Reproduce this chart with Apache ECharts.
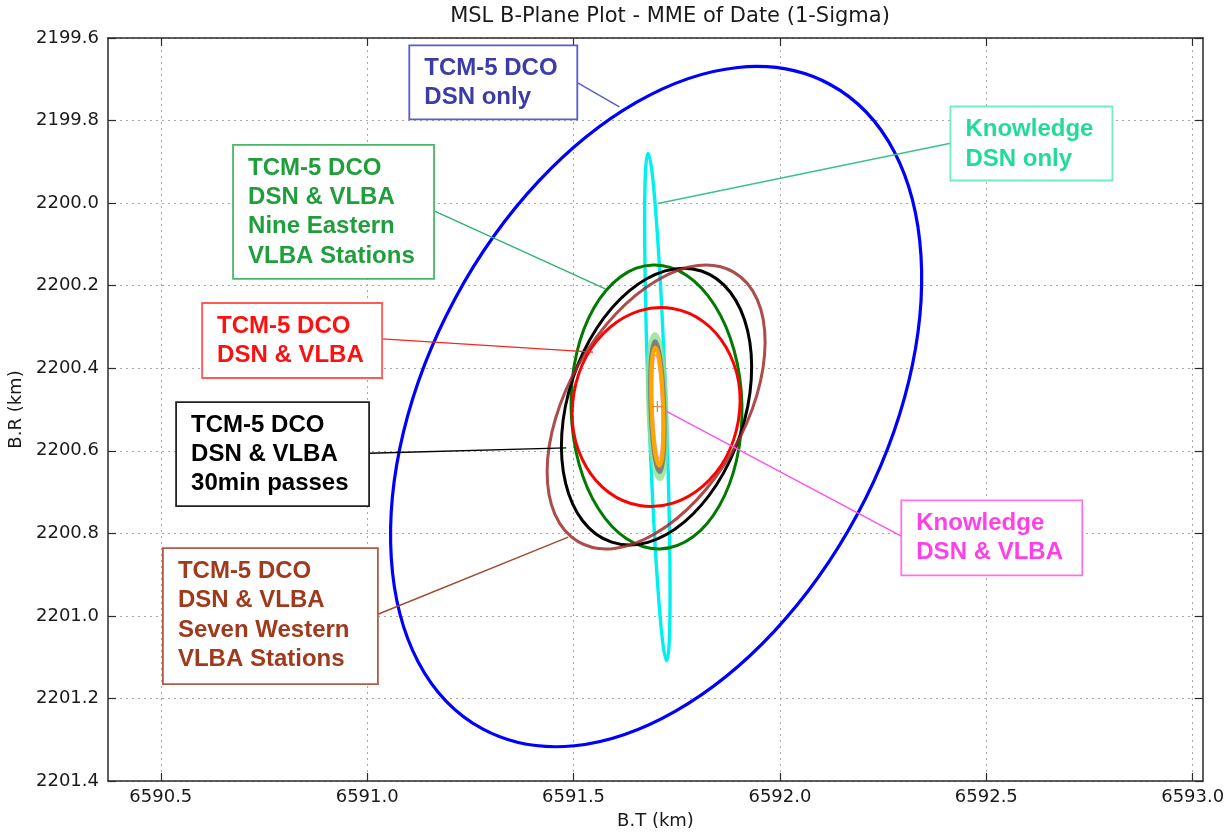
<!DOCTYPE html>
<html>
<head>
<meta charset="utf-8">
<script src="https://cdn.jsdelivr.net/npm/echarts@6/dist/echarts.min.js"></script>
<style>
  html, body { margin: 0; padding: 0; background: #ffffff; }
  #chart { width: 1229px; height: 832px; }
</style>
</head>
<body>
<div id="chart"></div>
<script>
// ---- B-plane 1-sigma error ellipses (km) ----
const ellipseNames = [
  'TCM-5 DCO DSN only',
  'Knowledge DSN only',
  'TCM-5 DCO DSN & VLBA (Nine Eastern)',
  'TCM-5 DCO DSN & VLBA (30min passes)',
  'TCM-5 DCO DSN & VLBA (Seven Western)',
  'TCM-5 DCO DSN & VLBA',
  'Knowledge DSN & VLBA (a)',
  'Knowledge DSN & VLBA (b)',
  'Knowledge DSN & VLBA (c)',
  'Knowledge DSN & VLBA (d)'
];
const ellipseBT    = [6591.700, 6591.703, 6591.701, 6591.701, 6591.700, 6591.700, 6591.703, 6591.703, 6591.703, 6591.703];
const ellipseBR    = [2200.493, 2200.494, 2200.494, 2200.493, 2200.494, 2200.494, 2200.493, 2200.493, 2200.493, 2200.493];
const ellipseMajor = [0.887, 0.615, 0.344, 0.346, 0.377, 0.242, 0.172, 0.158, 0.125, 0.143];
const ellipseMinor = [0.553, 0.021, 0.207, 0.214, 0.214, 0.202, 0.018, 0.016, 0.011, 0.014];
const ellipseTilt  = [61.7, 92.1, 91.3, 71.7, 60.1, 80.5, 92.0, 92.0, 92.0, 92.0];

// nominal aim point
const nominalBT = [6591.703];
const nominalBR = [2200.493];

// axis ticks
const xTicks = [6590.5, 6591.0, 6591.5, 6592.0, 6592.5, 6593.0];
const yTicks = [2199.6, 2199.8, 2200.0, 2200.2, 2200.4, 2200.6, 2200.8, 2201.0, 2201.2, 2201.4];
const xRange = [6590.372, 6593.025];

// ---- styles ----
const ellipseStyles = [
  { color: '#0000ff', width: 3.2 },
  { color: '#00f0f0', width: 3.4 },
  { color: '#007a00', width: 3 },
  { color: '#000000', width: 3 },
  { color: '#a02c2c', width: 3, opacity: 0.85 },
  { color: '#ff0000', width: 3 },
  { color: '#8fe08f', width: 7, opacity: 0.8 },
  { color: '#808080', width: 4.5 },
  { color: '#ff9ad5', width: 2 },
  { color: '#ffa500', width: 4 }
];

// callout boxes: anchor (top-left) and leader line ends in plot coordinates
const callouts = [
  { lines: ['TCM-5 DCO', 'DSN only'], text: '#3c3ca6', border: '#5a5ad4', lead: '#5a5ad4',
    box: [6591.102, 2199.618], w: 168, h: 74, from: [6591.509, 2199.708], to: [6591.611, 2199.767] },
  { lines: ['Knowledge', 'DSN only'], text: '#20dc98', border: '#70ecc8', lead: '#3cc090',
    box: [6592.413, 2199.766], w: 162, h: 74, from: [6592.413, 2199.855], to: [6591.704, 2200.001] },
  { lines: ['TCM-5 DCO', 'DSN & VLBA', 'Nine Eastern', 'VLBA Stations'], text: '#1f9e3c', border: '#48b868', lead: '#30b070',
    box: [6590.675, 2199.859], w: 201, h: 134, from: [6591.162, 2200.019], to: [6591.577, 2200.208] },
  { lines: ['TCM-5 DCO', 'DSN & VLBA'], text: '#ff1010', border: '#ff5a5a', lead: '#ff2020',
    box: [6590.600, 2200.242], w: 180, h: 75, from: [6591.036, 2200.329], to: [6591.547, 2200.361] },
  { lines: ['TCM-5 DCO', 'DSN & VLBA', '30min passes'], text: '#000000', border: '#222222', lead: '#000000',
    box: [6590.537, 2200.482], w: 193, h: 104, from: [6591.005, 2200.606], to: [6591.482, 2200.593] },
  { lines: ['Knowledge', 'DSN & VLBA'], text: '#ff40e6', border: '#ff70ee', lead: '#ff50ec',
    box: [6592.294, 2200.720], w: 181, h: 75, from: [6592.294, 2200.807], to: [6591.724, 2200.504] },
  { lines: ['TCM-5 DCO', 'DSN & VLBA', 'Seven Western', 'VLBA Stations'], text: '#a03a1c', border: '#b05a48', lead: '#a04a30',
    box: [6590.505, 2200.836], w: 215, h: 136, from: [6591.026, 2200.996], to: [6591.487, 2200.809] }
];

const FONT = 'DejaVu Sans';
const CALLOUT_FONT = 'bold 24px "Liberation Sans", Arial, sans-serif';

const chart = echarts.init(document.getElementById('chart'), null, { renderer: 'canvas' });

const ellipseData = ellipseBT.map((bt, i) => [bt, ellipseBR[i], ellipseMajor[i], ellipseMinor[i], ellipseTilt[i]]);

function renderEllipse(params, api) {
  const i = params.dataIndex;
  const item = [api.value(0), api.value(1)];
  const c = api.coord(item);
  const k = api.size([1, 1], item);
  const st = ellipseStyles[i];
  return {
    type: 'ellipse',
    x: c[0], y: c[1],
    rotation: api.value(4) * Math.PI / 180,
    shape: { cx: 0, cy: 0, rx: api.value(2) * k[0], ry: api.value(3) * k[1] },
    style: { fill: 'none', stroke: st.color, lineWidth: st.width, opacity: st.opacity == null ? 1 : st.opacity },
    z2: i
  };
}

function renderCallout(params, api) {
  const c = callouts[params.dataIndex];
  const p = api.coord(c.box);
  const a = api.coord(c.from);
  const b = api.coord(c.to);
  const children = [
    { type: 'line', shape: { x1: a[0], y1: a[1], x2: b[0], y2: b[1] },
      style: { stroke: c.lead, lineWidth: 1.4 } },
    { type: 'rect', shape: { x: p[0], y: p[1], width: c.w, height: c.h },
      style: { fill: '#ffffff', stroke: c.border, lineWidth: 1.8 } }
  ];
  c.lines.forEach((t, j) => {
    children.push({
      type: 'text',
      x: p[0] + 15, y: p[1] + 23 + j * 29.4,
      style: { text: t, fill: c.text, font: CALLOUT_FONT,
               align: 'left', verticalAlign: 'middle', textAlign: 'left', textVerticalAlign: 'middle' }
    });
  });
  return { type: 'group', children };
}

const axisLineStyle = { color: '#2a2a2a', width: 1.5 };
const tickStyle = { color: '#2a2a2a', width: 1.2 };
const gridLine = { show: true, lineStyle: { color: '#a8a8a8', width: 1, type: [2, 4] } };

const option = {
  animation: false,
  backgroundColor: '#ffffff',
  grid: { left: 108, right: 26, top: 38, bottom: 51, containLabel: false, outerBoundsMode: 'none' },
  graphic: [
    { type: 'text', x: 670, y: 17,
      style: { text: 'MSL B-Plane Plot - MME of Date (1-Sigma)', fill: '#1a1a1a',
               font: '21px "' + FONT + '"', align: 'center', verticalAlign: 'middle',
               textAlign: 'center', textVerticalAlign: 'middle' } }
  ],
  xAxis: [
    {
      type: 'value', min: xRange[0], max: xRange[1], position: 'bottom',
      name: 'B.T (km)', nameLocation: 'middle', nameGap: 31,
      nameTextStyle: { fontFamily: FONT, fontSize: 18, color: '#1a1a1a' },
      axisLine: { show: true, onZero: false, lineStyle: axisLineStyle },
      axisTick: { show: true, inside: true, length: 8, lineStyle: tickStyle, customValues: xTicks },
      axisLabel: { show: true, margin: 7, fontFamily: FONT, fontSize: 18, color: '#1a1a1a',
                   customValues: xTicks, formatter: v => v.toFixed(1) },
      splitLine: gridLine
    },
    {
      type: 'value', min: xRange[0], max: xRange[1], position: 'top',
      axisLine: { show: true, onZero: false, lineStyle: axisLineStyle },
      axisTick: { show: true, inside: true, length: 8, lineStyle: tickStyle, customValues: xTicks },
      axisLabel: { show: false },
      splitLine: { show: false }
    }
  ],
  yAxis: [
    {
      type: 'value', inverse: true, min: yTicks[0], max: yTicks[yTicks.length - 1], interval: 0.2, position: 'left',
      name: 'B.R (km)', nameLocation: 'middle', nameGap: 79, nameRotate: 90,
      nameTextStyle: { fontFamily: FONT, fontSize: 18, color: '#1a1a1a' },
      axisLine: { show: true, onZero: false, lineStyle: axisLineStyle },
      axisTick: { show: true, inside: true, length: 8, lineStyle: tickStyle, customValues: yTicks },
      axisLabel: { show: true, margin: 9, fontFamily: FONT, fontSize: 18, color: '#1a1a1a',
                   customValues: yTicks, formatter: v => v.toFixed(1) },
      splitLine: gridLine
    },
    {
      type: 'value', inverse: true, min: yTicks[0], max: yTicks[yTicks.length - 1], interval: 0.2, position: 'right',
      axisLine: { show: true, onZero: false, lineStyle: axisLineStyle },
      axisTick: { show: true, inside: true, length: 8, lineStyle: tickStyle, customValues: yTicks },
      axisLabel: { show: false },
      splitLine: { show: false }
    }
  ],
  series: [
    {
      name: 'ellipses', type: 'custom', xAxisIndex: 0, yAxisIndex: 0,
      renderItem: renderEllipse, data: ellipseData, clip: true, z: 2, silent: true
    },
    {
      name: 'nominal', type: 'scatter', xAxisIndex: 0, yAxisIndex: 0,
      data: nominalBT.map((bt, i) => [bt, nominalBR[i]]),
      symbol: 'path://M0,5L10,5M5,0L5,10', symbolSize: 11,
      itemStyle: { color: 'none', borderColor: '#c8781a', borderWidth: 1.3 }, z: 3, silent: true
    },
    {
      name: 'callouts', type: 'custom', xAxisIndex: 0, yAxisIndex: 0,
      renderItem: renderCallout, data: callouts.map(c => [c.box[0], c.box[1]]), clip: false, z: 4, silent: true
    }
  ]
};

chart.setOption(option);
</script>
</body>
</html>
